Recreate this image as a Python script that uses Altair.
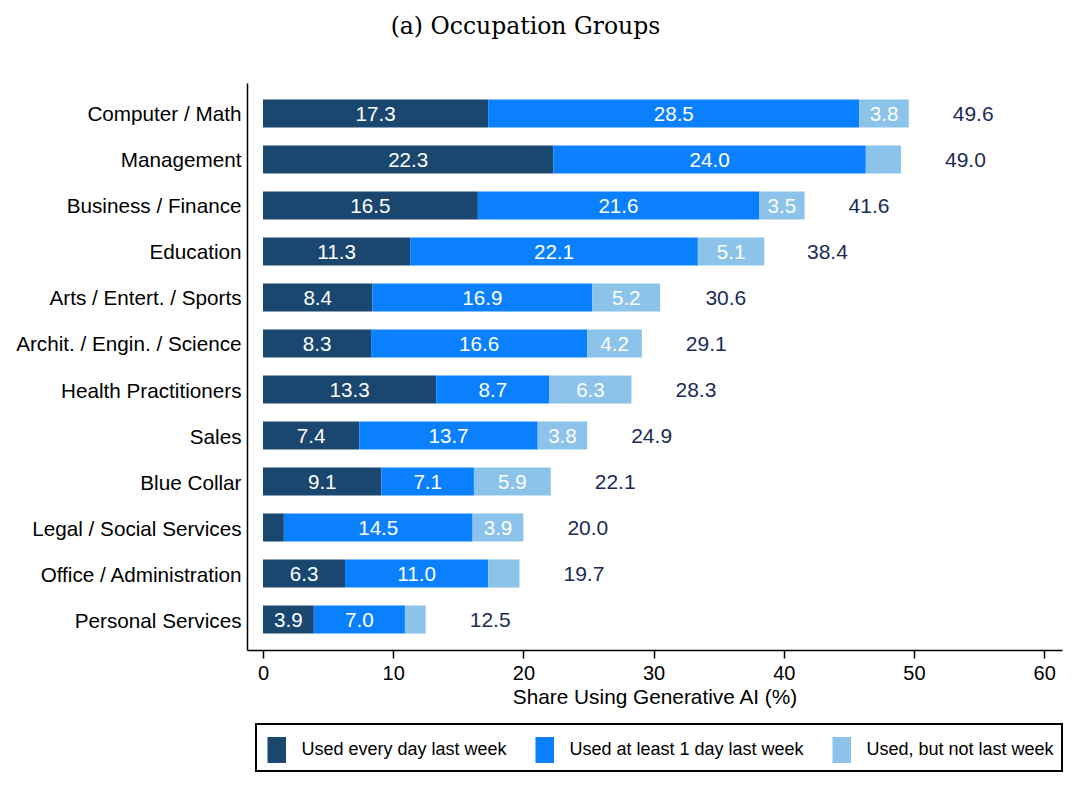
import altair as alt
import pandas as pd

categories = ["Computer / Math", "Management", "Business / Finance", "Education",
              "Arts / Entert. / Sports", "Archit. / Engin. / Science",
              "Health Practitioners", "Sales", "Blue Collar",
              "Legal / Social Services", "Office / Administration", "Personal Services"]
daily = [17.3, 22.3, 16.5, 11.3, 8.4, 8.3, 13.3, 7.4, 9.1, 1.6, 6.3, 3.9]
weekly = [28.5, 24.0, 21.6, 22.1, 16.9, 16.6, 8.7, 13.7, 7.1, 14.5, 11.0, 7.0]
notlast = [3.8, 2.7, 3.5, 5.1, 5.2, 4.2, 6.3, 3.8, 5.9, 3.9, 2.4, 1.6]
totals = [49.6, 49.0, 41.6, 38.4, 30.6, 29.1, 28.3, 24.9, 22.1, 20.0, 19.7, 12.5]
series = ["Used every day last week", "Used at least 1 day last week", "Used, but not last week"]
colors = ["#1a476f", "#0a80ff", "#8cc3ea"]
x_ticks = [0, 10, 20, 30, 40, 50, 60]

rows = []
for i, c in enumerate(categories):
    for j, vals in enumerate([daily, weekly, notlast]):
        rows.append({"cat": c, "series": series[j], "order": j, "value": vals[i]})
df = pd.DataFrame(rows)
tot_df = pd.DataFrame({"cat": categories, "total": totals})

FONT = "Liberation Sans"
xscale = alt.Scale(domain=[-1.23, 61.37], nice=False, zero=False)
yscale = alt.Scale(domain=categories, paddingInner=0.39, paddingOuter=0.358)

base = alt.Chart(df).transform_stack(
    stack="value", groupby=["cat"], sort=[alt.SortField("order")], as_=["x0", "x1"]
)

bars = base.mark_bar().encode(
    y=alt.Y("cat:N", scale=yscale, sort=categories,
            axis=alt.Axis(title=None, ticks=False, labelFontSize=20.7, labelColor="black",
                          labelFont=FONT, labelPadding=6, domainColor="black",
                          domainWidth=1.5, labelLimit=400, labelOffset=2)),
    x=alt.X("x0:Q", scale=xscale,
            axis=alt.Axis(values=x_ticks, title="Share Using Generative AI (%)",
                          titleFontSize=20.8, titleFont=FONT, titleFontWeight="normal",
                          titleColor="black", labelFontSize=20, labelFont=FONT,
                          labelColor="black", tickSize=8, tickColor="black",
                          tickWidth=1.5, domainColor="black", domainWidth=1.5,
                          grid=False, labelPadding=5, titlePadding=4, labelFlush=False)),
    x2="x1:Q",
    color=alt.Color("series:N", scale=alt.Scale(domain=series, range=colors),
                    legend=alt.Legend(title=None, orient="none", direction="horizontal",
                                      legendX=9, legendY=641,
                                      symbolType="M-0.806,-0.722H0.222V0.722H-0.806Z",
                                      symbolSize=1296, symbolStrokeWidth=0,
                                      symbolOpacity=1,
                                      labelFontSize=18, labelFont=FONT, labelColor="black",
                                      labelOffset=1.5, columnPadding=25,
                                      strokeColor="black", padding=8,
                                      labelLimit=400)),
    order=alt.Order("order:Q"),
)

seg_text = base.transform_filter("datum.value >= 3").transform_calculate(
    mid="(datum.x0 + datum.x1) / 2", lab="format(datum.value, '.1f')"
).mark_text(color="white", fontSize=20.6, font=FONT, baseline="middle", dy=1.5).encode(
    y=alt.Y("cat:N", scale=yscale, sort=categories),
    x=alt.X("mid:Q", scale=xscale),
    text="lab:N",
)

tot_text = alt.Chart(tot_df).transform_calculate(
    lab="format(datum.total, '.1f')"
).mark_text(color="#1a2b55", fontSize=21, font=FONT, align="left", dx=44,
            baseline="middle", dy=1.5).encode(
    y=alt.Y("cat:N", scale=yscale, sort=categories),
    x=alt.X("total:Q", scale=xscale),
    text="lab:N",
)

chart = alt.layer(bars, seg_text, tot_text).properties(
    width=815, height=567,
    title=alt.TitleParams("(a) Occupation Groups", font="DejaVu Serif", fontSize=23.5,
                          fontWeight="normal", color="black", anchor="middle",
                          dx=-129, offset=45),
    padding={"left": 239, "top": 75, "right": 10, "bottom": 127},
    autosize=alt.AutoSizeParams(type="none"),
).configure_view(stroke=None).configure_legend(strokeWidth=2)

chart.save("out.html", embed_options={"renderer": "svg", "actions": False})
